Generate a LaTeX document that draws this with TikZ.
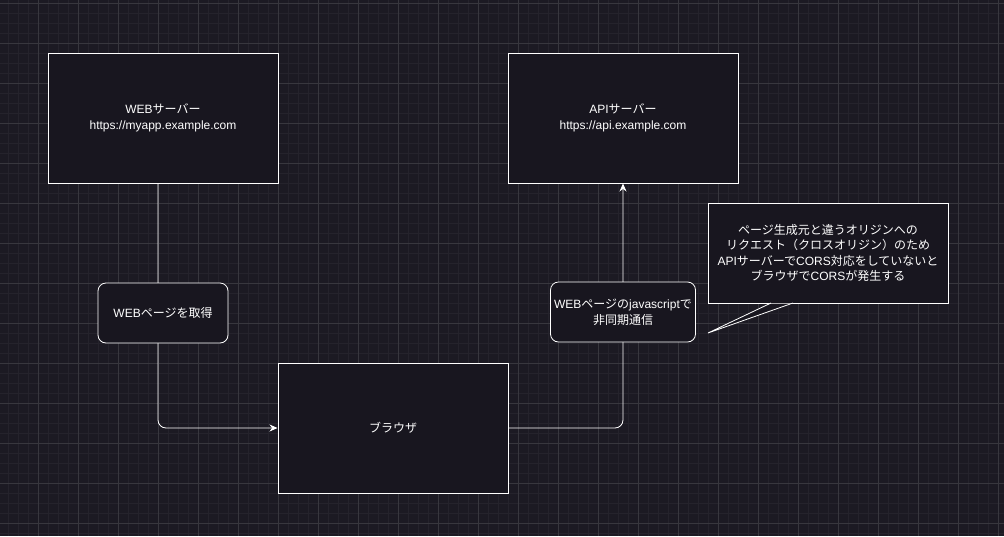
\documentclass[tikz,border=0pt]{standalone}
\usepackage{fontspec}
\setmainfont{Liberation Sans}
\newfontfamily\jp{Noto Sans CJK JP}
\usetikzlibrary{arrows.meta}
\definecolor{bgc}{HTML}{1C1A23}
\definecolor{fillc}{HTML}{18161F}
\definecolor{minorc}{HTML}{25232C}
\definecolor{majorc}{HTML}{38373E}
\tikzset{
  txt/.style={text=white, align=center, inner sep=0pt, font=\fontsize{12}{15.6}\selectfont},
  box/.style={draw=white, fill=fillc, line width=1pt, minimum width=230pt, minimum height=130pt, txt},
  lbl/.style={draw=white, fill=fillc, line width=0.8pt, rounded corners=8pt, txt},
  conn/.style={draw=white, line width=0.8pt, rounded corners=8pt, -{Stealth[length=8pt,width=7pt]}}
}
\begin{document}
\begin{tikzpicture}[x=1pt,y=-1pt]
\useasboundingbox (0,0) rectangle (1004,536);
\fill[bgc] (0,0) rectangle (1004,536);
% minor grid
\foreach \i in {-2,...,100} {
  \draw[minorc, line width=0.6pt] ({8+10*\i},0) -- ({8+10*\i},536);
}
\foreach \j in {0,...,54} {
  \draw[minorc, line width=0.6pt] (0,{3+10*\j}) -- (1004,{3+10*\j});
}
% major grid
\foreach \i in {0,...,25} {
  \draw[majorc, line width=0.7pt] ({-2+40*\i},0) -- ({-2+40*\i},536);
}
\foreach \j in {0,...,13} {
  \draw[majorc, line width=0.7pt] (0,{3+40*\j}) -- (1004,{3+40*\j});
}

\node[box] (web) at (163,118) {WEB{\jp サーバー}\\https://myapp.example.com};
\node[box] (api) at (623,118) {API{\jp サーバー}\\https://api.example.com};
\node[box] (brw) at (393,428) {{\jp ブラウザ}};

\coordinate (w1) at (158,183);
\coordinate (c1) at (158,428);
\coordinate (c2) at (623,428);
\draw[conn] (w1) -- (c1) -- (brw.west);
\draw[conn] (brw.east) -- (c2) -- (api.south);

\node[lbl, minimum width=130pt, minimum height=60pt] (l1) at (163,313) {WEB{\jp ページを取得}};
\node[lbl, minimum width=145pt, minimum height=60pt] (l2) at (623,312) {WEB{\jp ページの}javascript{\jp で}\\{\jp 非同期通信}};

% callout
\node[draw=white, fill=fillc, line width=0.8pt, minimum width=240pt, minimum height=100pt, txt] (co) at (828,253) {{\jp ページ生成元と違うオリジンへの}\\{\jp リクエスト（クロスオリジン）のため}\\API{\jp サーバーで}CORS{\jp 対応をしていないと}\\{\jp ブラウザで}CORS{\jp が発生する}};
\coordinate (tip) at (708,333);
\coordinate (p1) at (771,303);
\coordinate (p2) at (793,303);
\fill[fillc] ([yshift=-0.5pt]p1) -- (tip) -- ([yshift=-0.5pt]p2) -- cycle;
\draw[white, line width=0.8pt] (p1) -- (tip) -- (p2);
\end{tikzpicture}
\end{document}
